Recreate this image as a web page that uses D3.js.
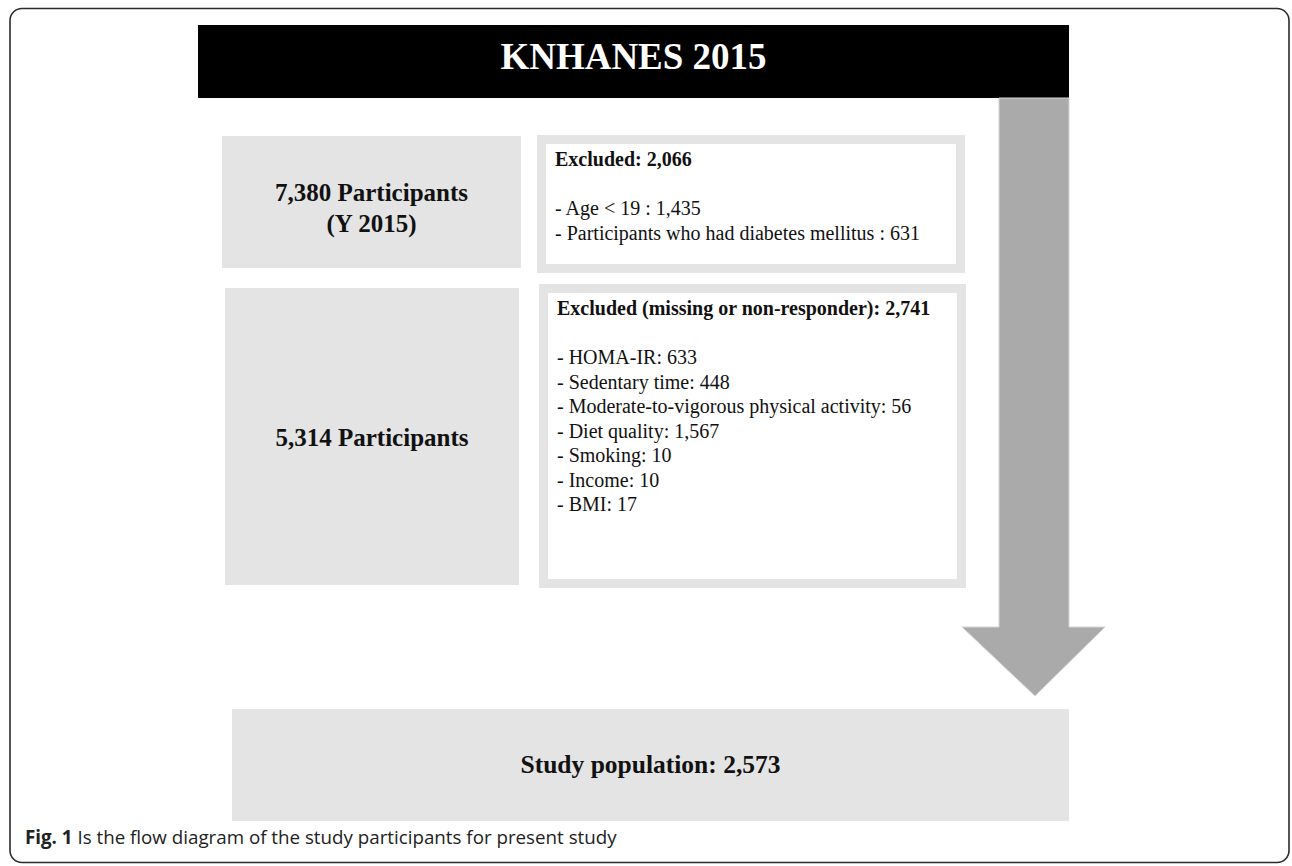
<!DOCTYPE html>
<html>
<head>
<meta charset="utf-8">
<script src="https://cdn.jsdelivr.net/npm/d3@7"></script>
<style>
  html, body { margin: 0; padding: 0; background: #fff; }
  svg { display: block; }
</style>
</head>
<body>
<svg id="chart" width="1292" height="866"></svg>
<script>
// ---- data ----
const headerTitle = "KNHANES 2015";
const stageCounts = [7380, 5314];
const stageSuffix = ["Participants", "Participants"];
const stageSubLines = [["(Y 2015)"], []];
const excludedTitles = ["Excluded", "Excluded (missing or non-responder)"];
const excludedCounts = [2066, 2741];
const reasons1 = ["Age < 19", "Participants who had diabetes mellitus"];
const reasonCounts1 = [1435, 631];
const reasons2 = ["HOMA-IR", "Sedentary time", "Moderate-to-vigorous physical activity", "Diet quality", "Smoking", "Income", "BMI"];
const reasonCounts2 = [633, 448, 56, 1567, 10, 10, 17];
const finalLabel = "Study population";
const finalCount = 2573;
const captionBold = "Fig. 1";
const captionText = " Is the flow diagram of the study participants for present study";

// ---- drawing ----
const fmt = d3.format(",");
const svg = d3.select("#chart");
const serif = "'Liberation Serif', 'Times New Roman', serif";
const gray = "#e4e4e4";

// outer frame
svg.append("rect").attr("x", 10).attr("y", 8.5).attr("width", 1279).attr("height", 854)
  .attr("rx", 12).attr("fill", "none").attr("stroke", "#2b2b2b").attr("stroke-width", 1.6);

// header
svg.append("rect").attr("x", 198).attr("y", 25).attr("width", 871).attr("height", 73).attr("fill", "#000");
svg.append("text").attr("x", 633.5).attr("y", 69).attr("text-anchor", "middle")
  .attr("font-family", serif).attr("font-weight", "bold").attr("font-size", 37).attr("fill", "#fff")
  .text(headerTitle);

// arrow
const arrowPts = [[999, 98], [1069, 98], [1069, 627], [1105, 627], [1035, 696], [962, 627], [999, 627]];
svg.append("polygon").attr("points", arrowPts.map(p => p.join(",")).join(" "))
  .attr("fill", "#aaaaaa").attr("stroke", "#d6d6d6").attr("stroke-width", 1);

// left stage boxes
const stageBoxes = [
  {x: 222, y: 136, w: 299, h: 132, baselines: [201, 232]},
  {x: 225, y: 288, w: 294, h: 297, baselines: [446]}
];
stageBoxes.forEach((b, i) => {
  svg.append("rect").attr("x", b.x).attr("y", b.y).attr("width", b.w).attr("height", b.h).attr("fill", gray);
  const lines = [fmt(stageCounts[i]) + " " + stageSuffix[i]].concat(stageSubLines[i]);
  lines.forEach((l, j) => {
    svg.append("text").attr("x", b.x + b.w / 2).attr("y", b.baselines[j]).attr("text-anchor", "middle")
      .attr("font-family", serif).attr("font-weight", "bold").attr("font-size", 25).attr("fill", "#111")
      .text(l);
  });
});

// exclusion boxes
const exBoxes = [
  {x: 541.5, y: 139.5, w: 419, h: 129, tx: 555, ty: 166, ly: 215, step: 25, sep: " : ", reasons: reasons1, counts: reasonCounts1},
  {x: 543.5, y: 288.5, w: 418, h: 295, tx: 557, ty: 315, ly: 364, step: 24.5, sep: ": ", reasons: reasons2, counts: reasonCounts2}
];
exBoxes.forEach((b, i) => {
  svg.append("rect").attr("x", b.x).attr("y", b.y).attr("width", b.w).attr("height", b.h)
    .attr("fill", "#fff").attr("stroke", gray).attr("stroke-width", 9);
  svg.append("text").attr("x", b.tx).attr("y", b.ty)
    .attr("font-family", serif).attr("font-weight", "bold").attr("font-size", 20).attr("fill", "#111")
    .text(excludedTitles[i] + ": " + fmt(excludedCounts[i]));
  svg.selectAll(null).data(b.reasons).enter().append("text")
    .attr("x", b.tx).attr("y", (d, j) => b.ly + j * b.step)
    .attr("font-family", serif).attr("font-size", 20).attr("fill", "#111")
    .text((d, j) => "- " + d + b.sep + fmt(b.counts[j]));
});

// final box
svg.append("rect").attr("x", 232).attr("y", 709).attr("width", 837).attr("height", 112).attr("fill", gray);
svg.append("text").attr("x", 650.5).attr("y", 773).attr("text-anchor", "middle")
  .attr("font-family", serif).attr("font-weight", "bold").attr("font-size", 25.5).attr("fill", "#111")
  .text(finalLabel + ": " + fmt(finalCount));

// caption
const cap = svg.append("text").attr("x", 25).attr("y", 844)
  .attr("font-family", "'Open Sans', 'Noto Sans', sans-serif").attr("font-size", 14.5).attr("fill", "#222");
cap.append("tspan").attr("font-weight", "bold").text(captionBold);
cap.append("tspan").text(captionText);
// fit caption width to the reference span
const capW = cap.node().getComputedTextLength();
const targetW = 592;
cap.attr("font-size", 14.5 * targetW / capW);
</script>
</body>
</html>
